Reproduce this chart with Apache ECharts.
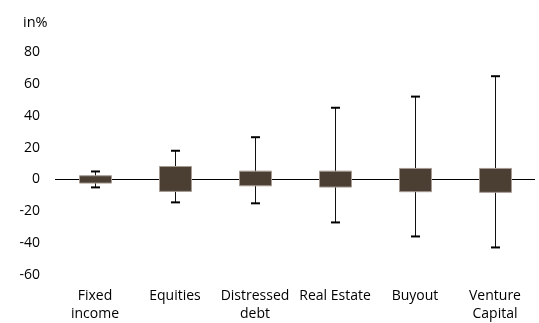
<!DOCTYPE html>
<html>
<head>
<meta charset="utf-8">
<script src="https://cdn.jsdelivr.net/npm/echarts@6/dist/echarts.min.js"></script>
<style>html,body{margin:0;padding:0;background:#fff}#c{width:539px;height:323px}</style>
</head>
<body>
<div id="c"></div>
<script>
var categories = ['Fixed\nincome', 'Equities', 'Distressed\ndebt', 'Real Estate', 'Buyout', 'Venture\nCapital'];
var boxLow = [-2.3, -7.5, -4, -4.8, -7.7, -8.1];
var boxHigh = [2.3, 8.1, 5.2, 5.2, 6.9, 6.9];
var whiskerLow = [-5, -14.4, -15, -27, -35.8, -42.7];
var whiskerHigh = [5, 18, 26.5, 45, 52, 64.8];
var yTicks = [-60, -40, -20, 0, 20, 40, 60, 80];

var data = categories.map(function (c, i) {
  return [i, boxLow[i], boxHigh[i], whiskerLow[i], whiskerHigh[i]];
});

var chart = echarts.init(document.getElementById('c'), null, {renderer: 'canvas'});
var font = '"Open Sans", "Noto Sans", sans-serif';
chart.setOption({
  animation: false,
  title: {text: 'in%', left: 18, top: 10, textStyle: {fontFamily: font, fontSize: 14.5, fontWeight: 'normal', color: '#000'}},
  grid: {left: 55, right: 4, top: 52, bottom: 47, containLabel: false},
  xAxis: {
    type: 'category', data: categories,
    axisLine: {show: false}, axisTick: {show: false},
    axisLabel: {fontFamily: font, fontSize: 14, color: '#000', margin: 12, lineHeight: 18, interval: 0}
  },
  yAxis: {
    type: 'value', min: yTicks[0], max: yTicks[yTicks.length - 1], interval: 20,
    splitLine: {show: false}, axisLine: {show: false}, axisTick: {show: false},
    axisLabel: {fontFamily: font, fontSize: 14, color: '#000', margin: 15}
  },
  series: [{
    type: 'custom',
    data: data,
    renderItem: function (params, api) {
      var x = api.value(0);
      var bl = api.coord([x, api.value(1)]);
      var bh = api.coord([x, api.value(2)]);
      var wl = api.coord([x, api.value(3)]);
      var wh = api.coord([x, api.value(4)]);
      var cx = Math.round(bl[0]) + 0.5;
      var bw = 32, cw = 9;
      return {
        type: 'group',
        children: [
          {type: 'line', shape: {x1: cx, y1: wh[1], x2: cx, y2: wl[1]}, style: {stroke: '#111', lineWidth: 1}},
          {type: 'line', shape: {x1: cx - cw / 2, y1: wh[1], x2: cx + cw / 2, y2: wh[1]}, style: {stroke: '#000', lineWidth: 2}},
          {type: 'line', shape: {x1: cx - cw / 2, y1: wl[1], x2: cx + cw / 2, y2: wl[1]}, style: {stroke: '#000', lineWidth: 2}},
          {type: 'rect', shape: {x: cx - bw / 2, y: bh[1], width: bw, height: bl[1] - bh[1]},
           style: {fill: '#4b3e32', stroke: '#a69c93', lineWidth: 1}, z2: 10}
        ]
      };
    },
    markLine: {
      silent: true, symbol: ['none', 'none'], label: {show: false},
      lineStyle: {color: '#000', width: 1, type: 'solid'},
      data: [{yAxis: 0}], z: 1
    },
    z: 2
  }]
});
</script>
</body>
</html>
